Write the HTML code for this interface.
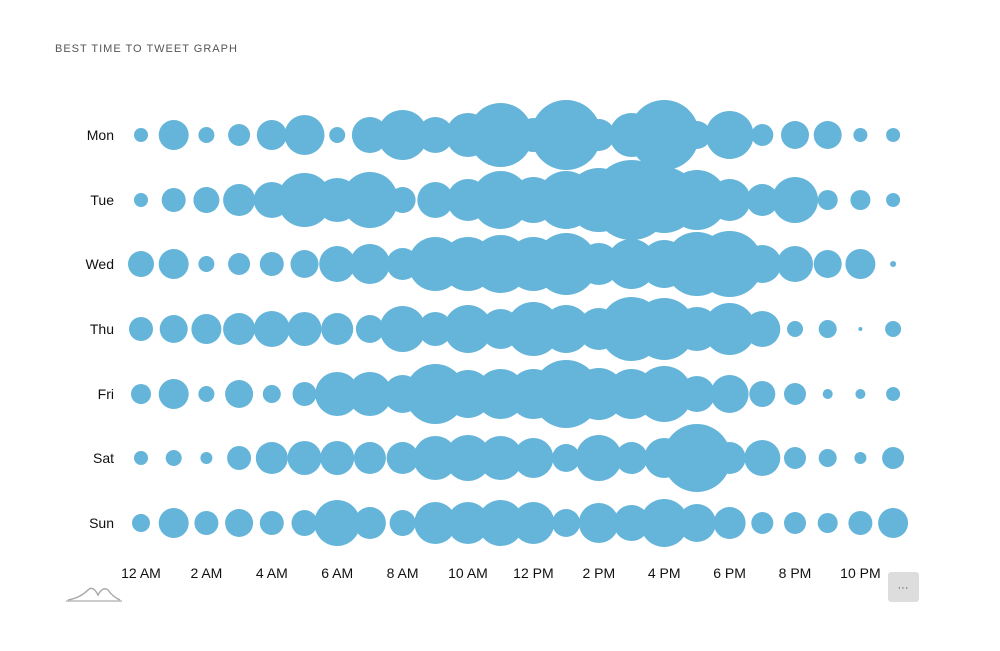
<!DOCTYPE html>
<html><head><meta charset="utf-8"><style>
body{margin:0;background:#fff;width:1000px;height:646px;overflow:hidden;font-family:"Liberation Sans",sans-serif}
</style></head><body>
<svg width="1000" height="646" xmlns="http://www.w3.org/2000/svg">
<text x="55" y="52" font-size="11" fill="#555" letter-spacing="1">BEST TIME TO TWEET GRAPH</text>
<g id="b" fill="#65b4d9"></g>
<g font-size="14" fill="#111" text-anchor="end" id="yl"></g>
<g font-size="14" fill="#111" text-anchor="middle" id="xl"></g>
<path d="M66 601 L122 601" stroke="#bbb" stroke-width="1.5"/>
<path d="M68 600 Q80 598 88 590 Q93 585 98 595 Q103 586 108 590 Q113 597 120 600" stroke="#aaa" fill="none" stroke-width="1.5"/>
<rect x="888" y="572" width="31" height="30" rx="3" fill="#ddd"/>
<text x="903" y="591" font-size="11" fill="#555" text-anchor="middle">···</text>
</svg>
<script>
var R=[[7,15,8,11,15,20,8,18,25,18,22,32,17,35,16,22,35,14,24,11,14,14,7,7],
[7,12,13,16,18,27,22,28,13,18,21,29,23,29,32,40,33,30,21,16,23,10,10,7],
[13,15,8,11,12,14,18,20,16,27,27,29,27,31,21,25,24,32,33,19,18,14,15,3],
[12,14,15,16,18,17,16,14,23,17,24,20,27,24,21,32,31,22,26,18,8,9,2,8],
[10,15,8,14,9,12,22,22,19,30,24,25,25,34,26,25,28,18,19,13,11,5,5,7],
[7,8,6,12,16,17,17,16,16,22,23,22,20,14,23,16,20,34,16,18,11,9,6,11],
[9,15,12,14,12,13,23,16,13,21,21,23,21,14,20,18,24,19,16,11,11,10,12,15]];
var days=["Mon","Tue","Wed","Thu","Fri","Sat","Sun"],ys=[135,200,264,329,394,458,523];
var ns="http://www.w3.org/2000/svg",b=document.getElementById("b");
function el(t,a,p,tx){var e=document.createElementNS(ns,t);for(var k in a)e.setAttribute(k,a[k]);if(tx)e.textContent=tx;p.appendChild(e);}
for(var d=0;d<7;d++){for(var i=0;i<24;i++)el("circle",{cx:141+i*32.7,cy:ys[d],r:R[d][i]},b);
el("text",{x:114,y:ys[d]+5},document.getElementById("yl"),days[d]);}
var L=["12 AM","2 AM","4 AM","6 AM","8 AM","10 AM","12 PM","2 PM","4 PM","6 PM","8 PM","10 PM"];
for(var j=0;j<12;j++)el("text",{x:141+j*65.4,y:578},document.getElementById("xl"),L[j]);
</script>
</body></html>
